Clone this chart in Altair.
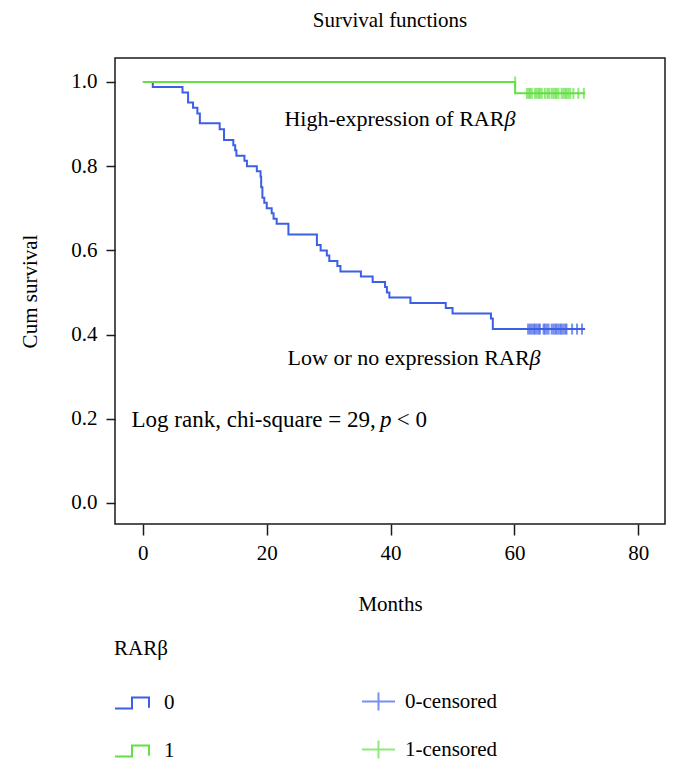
import altair as alt
import pandas as pd

# --- Kaplan-Meier step data ---
blue_month = [0, 1.6, 6.4, 7.3, 8.1, 8.8, 9.2, 12.4, 13.1, 14.6, 14.9, 15.1, 16.4, 16.8,
              18.4, 19.0, 19.1, 19.3, 19.6, 20.0, 20.8, 21.1, 21.6, 23.5, 28.1, 28.7,
              29.7, 30.1, 31.4, 31.9, 35.2, 37.1, 39.1, 39.4, 39.8, 43.2, 48.9, 50.0,
              56.2, 56.5, 71.4]
blue_surv = [1.0, 0.988, 0.975, 0.951, 0.939, 0.925, 0.902, 0.888, 0.862, 0.850, 0.838,
             0.825, 0.813, 0.800, 0.788, 0.775, 0.750, 0.725, 0.713, 0.700, 0.688, 0.675,
             0.663, 0.638, 0.613, 0.600, 0.588, 0.575, 0.563, 0.550, 0.538, 0.525, 0.513,
             0.500, 0.488, 0.475, 0.463, 0.450, 0.438, 0.413, 0.413]
green_month = [0, 60.1, 71.4]
green_surv = [1.0, 0.973, 0.973]

blue_cens_month = [62.2, 62.5, 62.8, 63.1, 63.3, 63.6, 63.9, 64.1, 64.7, 64.9, 65.2, 65.5,
                   66.0, 66.3, 66.6, 66.8, 67.1, 67.4, 67.6, 67.9, 68.2, 68.4, 69.3, 70.1, 70.9]
blue_cens_surv = 0.413
green_cens_month = [62.0, 62.3, 62.5, 62.8, 63.3, 63.6, 63.9, 64.1, 64.4, 64.9, 65.3, 65.6,
                    66.0, 66.3, 66.6, 66.8, 67.1, 67.6, 67.9, 68.2, 68.4, 68.7, 69.0, 69.5,
                    70.3, 71.2]
green_cens_surv = 0.973
green_cens_top_month = [60.1]
green_cens_top_surv = 1.0

line_groups = ["0", "1"]
cens_groups = ["0-censored", "1-censored"]
blue = "#3d5fe6"
green = "#63e043"

ann_text = ["High-expression of RAR", "β", "Low or no expression RAR", "β",
            "Log rank, chi-square = 29,", "p", "< 0"]
ann_month = [58.37, 58.37, 62.44, 62.44, 37.6, 38.3, 41.0]
ann_surv = [0.8955, 0.8955, 0.328, 0.328, 0.181, 0.181, 0.181]
ann_role = ["right", "italic", "right", "italic", "right", "italic", "left"]
ann_size = [22, 22, 22, 22, 23, 23, 23]

x_ticks = [0, 20, 40, 60, 80]
y_ticks = [0.0, 0.2, 0.4, 0.6, 0.8, 1.0]

FONT = "Liberation Serif"

lines = pd.DataFrame({
    "month": blue_month + green_month,
    "surv": blue_surv + green_surv,
    "group": ["0"] * len(blue_month) + ["1"] * len(green_month),
})
cens = pd.DataFrame({
    "month": blue_cens_month + green_cens_month + green_cens_top_month,
    "surv": [blue_cens_surv] * len(blue_cens_month)
            + [green_cens_surv] * len(green_cens_month)
            + [green_cens_top_surv] * len(green_cens_top_month),
    "cgroup": ["0-censored"] * len(blue_cens_month)
              + ["1-censored"] * (len(green_cens_month) + len(green_cens_top_month)),
})
ann = pd.DataFrame({"text": ann_text, "month": ann_month, "surv": ann_surv,
                    "role": ann_role, "size": ann_size})

xs = alt.Scale(domain=[-4.5, 84.3], nice=False, zero=False)
ys = alt.Scale(domain=[-0.05, 1.057], nice=False, zero=False)

x_enc = alt.X("month:Q", scale=xs, axis=alt.Axis(
    values=x_ticks, title="Months", grid=False, domain=False, tickSize=11,
    tickWidth=1.5, tickColor="#1a1a1a", labelFont=FONT, labelFontSize=21,
    labelColor="black", labelPadding=7, titleFont=FONT, titleFontSize=21,
    titleFontWeight="normal", titleColor="black", titleX=275, titleY=80,
    titleBaseline="middle", titleAlign="center"))
y_enc = alt.Y("surv:Q", scale=ys, axis=alt.Axis(
    values=y_ticks, format=".1f", title="Cum survival", grid=False, domain=False,
    tickSize=9, tickWidth=1.5, tickColor="#1a1a1a", labelFont=FONT, labelFontSize=21,
    labelColor="black", labelPadding=9, titleFont=FONT, titleFontSize=21,
    titleFontWeight="normal", titleColor="black", titleX=-85, titleY=233,
    titleAngle=-90, titleBaseline="middle", titleAlign="center"))

STEP = "M-1,0.32L0,0.32L0,-0.32L1,-0.32L1,0.28"
w = 0.06
PLUS = (f"M-1,{-w}L{-w},{-w}L{-w},-0.55L{w},-0.55L{w},{-w}L1,{-w}L1,{w}"
        f"L{w},{w}L{w},0.55L{-w},0.55L{-w},{w}L-1,{w}Z")

line_layer = alt.Chart(lines).mark_line(interpolate="step-after", strokeWidth=2).encode(
    x=x_enc, y=y_enc,
    color=alt.Color("group:N", scale=alt.Scale(domain=line_groups, range=[blue, green]),
                    legend=alt.Legend(
                        title="RARβ", orient="none", legendX=-1, legendY=580,
                        direction="vertical", rowPadding=20,
                        symbolType=STEP, symbolSize=1156, symbolStrokeWidth=2,
                        symbolFillColor="transparent", labelOffset=14,
                        titleFont=FONT, titleFontSize=21, titleFontWeight="normal",
                        titleColor="black", titlePadding=26, labelFont=FONT,
                        labelFontSize=21, labelColor="black")))
cens_layer = alt.Chart(cens).mark_tick(orient="vertical", size=11, thickness=2).encode(
    x="month:Q", y="surv:Q",
    fill=alt.Fill("cgroup:N", scale=alt.Scale(domain=cens_groups, range=[blue, green]),
                  legend=alt.Legend(
                      title=None, orient="none", legendX=247, legendY=627,
                      direction="vertical", rowPadding=21,
                      symbolType=PLUS, symbolSize=1089, symbolStrokeWidth=0,
                      labelOffset=10, labelFont=FONT, labelFontSize=21,
                      labelColor="black")))

def text_layer(role, align, style):
    return alt.Chart(ann).transform_filter(alt.datum.role == role).mark_text(
        align=align, baseline="alphabetic", font=FONT,
        fontStyle=style, color="black").encode(
        x="month:Q", y="surv:Q", text="text:N",
        size=alt.Size("size:Q", scale=None, legend=None))

chart = alt.layer(
    line_layer, cens_layer,
    text_layer("right", "right", "normal"),
    text_layer("italic", "left", "italic"),
    text_layer("left", "left", "normal"),
).resolve_scale(color="independent").properties(
    width=550, height=466,
    title=alt.TitleParams("Survival functions", font=FONT, fontSize=21,
                          fontWeight="normal", color="black", anchor="middle",
                          baseline="alphabetic", offset=10),
    autosize=alt.AutoSizeParams(type="none"),
    padding={"left": 107, "top": 50, "right": 5, "bottom": 240},
).configure_view(stroke="#1a1a1a", strokeWidth=1.5)

chart.save("out.html", embed_options={"renderer": "svg", "actions": False})
